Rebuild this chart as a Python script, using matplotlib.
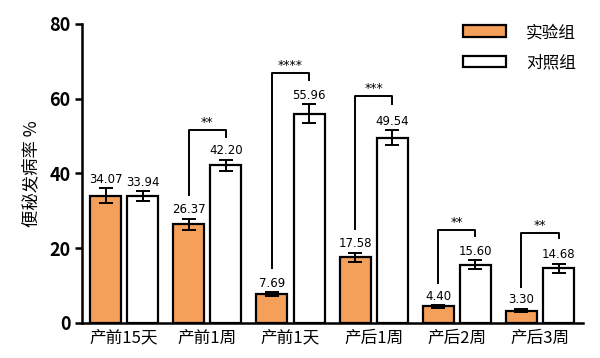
import numpy as np
import matplotlib.pyplot as plt
from matplotlib.patches import Patch

plt.rcParams['font.family'] = ['Noto Sans CJK SC', 'DejaVu Sans']

# Data
groups = ['产前15天', '产前1周', '产前1天', '产后1周', '产后2周', '产后3周']
exp_vals = [34.07, 26.37, 7.69, 17.58, 4.40, 3.30]
exp_err = [2.0, 1.5, 0.5, 1.2, 0.3, 0.4]
ctl_vals = [33.94, 42.20, 55.96, 49.54, 15.60, 14.68]
ctl_err = [1.3, 1.5, 2.5, 2.0, 1.2, 1.2]
sig_marks = ['', '**', '****', '***', '**', '**']
# bracket: (left leg bottom, top, right leg bottom)
brackets = [None, (34.2, 51.6, 49.7), (14.7, 66.8, 65.0), (25.1, 60.7, 58.5),
            (10.7, 24.9, 23.3), (9.6, 24.0, 22.7)]

ORANGE = '#F5A05A'

fig = plt.figure(figsize=(6, 3.58), dpi=100)
ax = fig.add_axes([0.137, 0.098, 0.835, 0.835])

x = np.arange(len(groups))
w = 0.373
off = 0.223
ax.bar(x - off, exp_vals, w, color=ORANGE, edgecolor='black', linewidth=1.6, zorder=2)
ax.bar(x + off, ctl_vals, w, color='white', edgecolor='black', linewidth=1.6, zorder=2)
ax.errorbar(x - off, exp_vals, yerr=exp_err, fmt='none', ecolor='black',
            elinewidth=1.4, capsize=5, capthick=1.4, zorder=3)
ax.errorbar(x + off, ctl_vals, yerr=ctl_err, fmt='none', ecolor='black',
            elinewidth=1.4, capsize=5, capthick=1.4, zorder=3)

for i in range(len(groups)):
    ax.text(x[i] - off, exp_vals[i] + exp_err[i] + 0.7, '%.2f' % exp_vals[i],
            ha='center', va='bottom', fontsize=8.5, family='DejaVu Sans')
    ax.text(x[i] + off, ctl_vals[i] + ctl_err[i] + 0.7, '%.2f' % ctl_vals[i],
            ha='center', va='bottom', fontsize=8.5, family='DejaVu Sans')
    b = brackets[i]
    if b is not None:
        ax.plot([x[i] - off, x[i] - off, x[i] + off, x[i] + off],
                [b[0], b[1], b[1], b[2]], color='black', lw=1.4, zorder=3)
        ax.text(x[i], b[1] + 0.3, sig_marks[i], ha='center', va='bottom',
                fontsize=9, family='DejaVu Sans')

ax.set_xlim(-0.505, 5.52)
ax.set_ylim(0, 80)
ax.set_yticks([0, 20, 40, 60, 80])
ax.set_xticks(x)
ax.set_xticklabels(groups, fontsize=12)
ax.tick_params(axis='x', length=0, pad=5)
ax.tick_params(axis='y', width=1.8, length=5, labelsize=13)
for lab in ax.get_yticklabels():
    lab.set_fontweight('bold')
ax.spines['top'].set_visible(False)
ax.spines['right'].set_visible(False)
ax.spines['left'].set_linewidth(1.8)
ax.spines['bottom'].set_linewidth(1.8)
ax.set_ylabel('便秘发病率 %', fontsize=12.5, labelpad=6)

handles = [Patch(facecolor=ORANGE, edgecolor='black', linewidth=1.6),
           Patch(facecolor='white', edgecolor='black', linewidth=1.6)]
ax.legend(handles, ['实验组', '对照组'], loc='upper left', bbox_to_anchor=(0.73, 1.05),
          frameon=False, fontsize=12, handlelength=2.6, handleheight=0.7,
          handletextpad=1.2, labelspacing=0.8)

fig.savefig('out.png', dpi=100)
